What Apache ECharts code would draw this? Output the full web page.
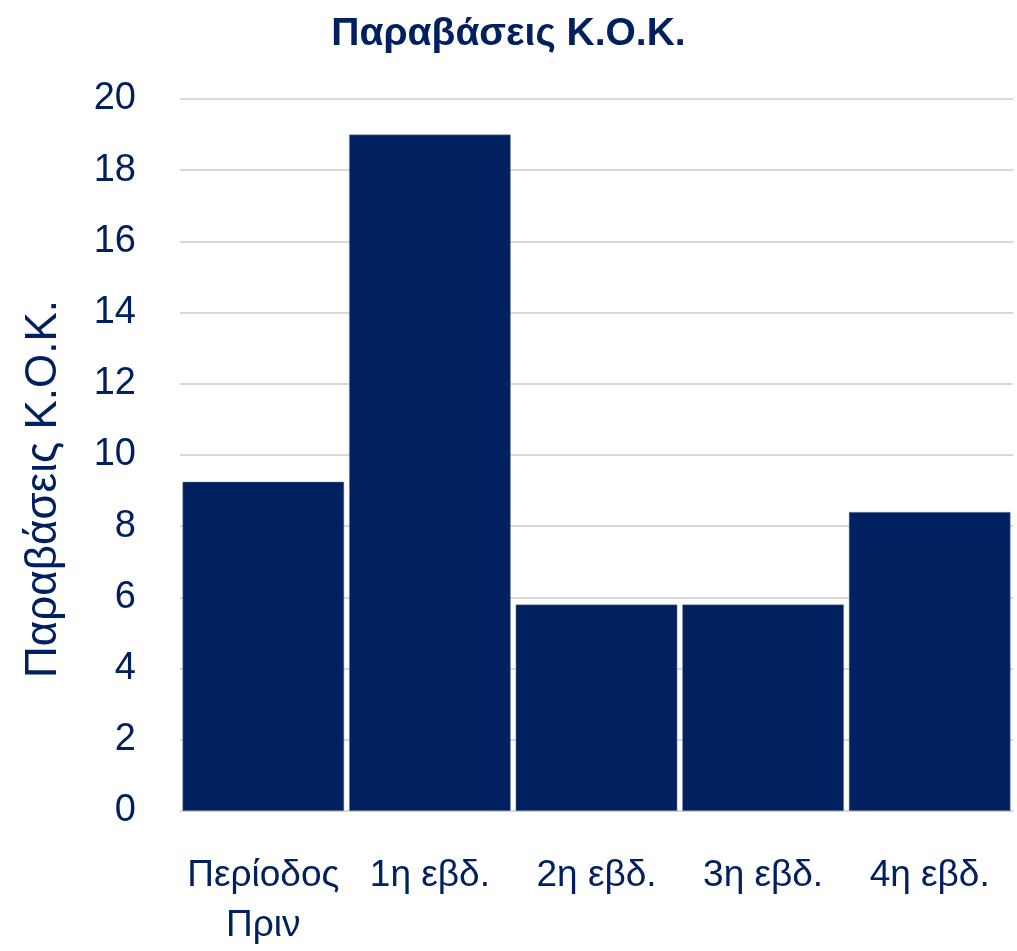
<!DOCTYPE html>
<html><head><meta charset="utf-8">
<script src="https://cdn.jsdelivr.net/npm/echarts@6/dist/echarts.min.js"></script>
<style>html,body{margin:0;padding:0;background:#fff}#c{width:1017px;height:951px}</style>
</head><body><div id="c"></div>
<script>
const categories = ['Περίοδος\nΠριν', '1η εβδ.', '2η εβδ.', '3η εβδ.', '4η εβδ.'];
const values = [9.25, 19, 5.8, 5.8, 8.4];
const titleText = 'Παραβάσεις Κ.Ο.Κ.';
const yAxisName = 'Παραβάσεις Κ.Ο.Κ.';
const navy = '#002060';
const font = '"Liberation Sans", Arial, sans-serif';
const chart = echarts.init(document.getElementById('c'));
chart.setOption({
  animation: false,
  title: { text: titleText, left: 'center', top: 10,
    textStyle: { color: navy, fontFamily: font, fontWeight: 'bold', fontSize: 39 } },
  grid: { left: 180, right: 4, top: 99, bottom: 140, outerBoundsMode: 'none', containLabel: false },
  graphic: [{ type: 'text', x: 44, y: 489, rotation: Math.PI / 2,
    style: { text: yAxisName, fill: navy, font: '44px ' + font, align: 'center', verticalAlign: 'middle' } }],
  xAxis: { type: 'category', data: categories,
    axisLine: { show: true, lineStyle: { color: '#d9d9d9', width: 1 } },
    axisTick: { show: false },
    axisLabel: { interval: 0, color: navy, fontFamily: font, fontSize: 37, margin: 40, lineHeight: 50 } },
  yAxis: { type: 'value', min: 0, max: 20, interval: 2,
    axisLine: { show: false }, axisTick: { show: false },
    axisLabel: { color: navy, fontFamily: font, fontSize: 38, margin: 44 },
    splitLine: { lineStyle: { color: '#d9d9d9', width: 2 } } },
  series: [{ type: 'bar', data: values, barCategoryGap: '3%',
    itemStyle: { color: navy, borderColor: '#8090b0', borderWidth: 0.5 } }]
});
</script></body></html>
